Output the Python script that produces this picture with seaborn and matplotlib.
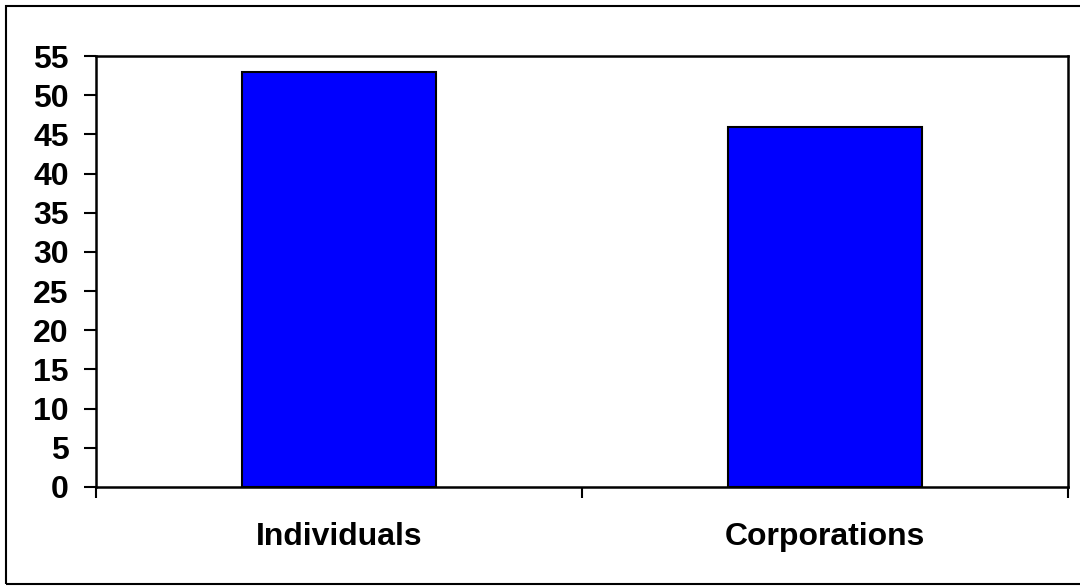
import matplotlib
matplotlib.use("Agg")
import matplotlib.pyplot as plt
import seaborn as sns
import pandas as pd
from matplotlib.patches import Rectangle

categories = ["Individuals", "Corporations"]
values = [53, 46]
y_ticks = list(range(0, 56, 5))

sns.set_theme(style="white")
plt.rcParams['font.family'] = ['Liberation Sans', 'DejaVu Sans']

fig = plt.figure(figsize=(10.8, 5.86), dpi=100)
W, H = 1080, 586
ax = fig.add_axes([96 / W, 1 - 487 / H, (1068 - 96) / W, (487 - 56) / H])

df = pd.DataFrame({"cat": categories, "val": values})
sns.barplot(data=df, x="cat", y="val", ax=ax, color="#0000FF", saturation=1,
            width=0.4, edgecolor="black", linewidth=1.5)

ax.set_xlim(-0.5, 1.5)
ax.set_ylim(0, 55)
ax.set_yticks(y_ticks)
ax.set_yticklabels([str(t) for t in y_ticks], fontsize=23, fontweight="bold")
ax.set_xticks([-0.5, 0.5, 1.5])
ax.set_xticklabels(["", "", ""])
ax.set_xticks([0, 1], minor=True)
ax.set_xticklabels(categories, minor=True, fontsize=23, fontweight="bold")
ax.tick_params(axis="x", which="major", direction="out", length=8, width=1.5,
               color="black", bottom=True)
ax.tick_params(axis="x", which="minor", length=0, pad=25)
ax.tick_params(axis="y", direction="out", length=8.6, width=1.5, color="black",
               left=True, pad=11, labelcolor="black")
ax.tick_params(axis="x", labelcolor="black", which="both")
ax.set_xlabel("")
ax.set_ylabel("")
for s in ax.spines.values():
    s.set_visible(True)
    s.set_color("black")
    s.set_linewidth(1.8)

fig.patches.append(Rectangle((6 / W, 2 / H), 1.2, (584 - 6) / H,
                             transform=fig.transFigure, fill=False,
                             edgecolor="black", linewidth=1.5, zorder=0))

fig.savefig("out.png", dpi=100)
